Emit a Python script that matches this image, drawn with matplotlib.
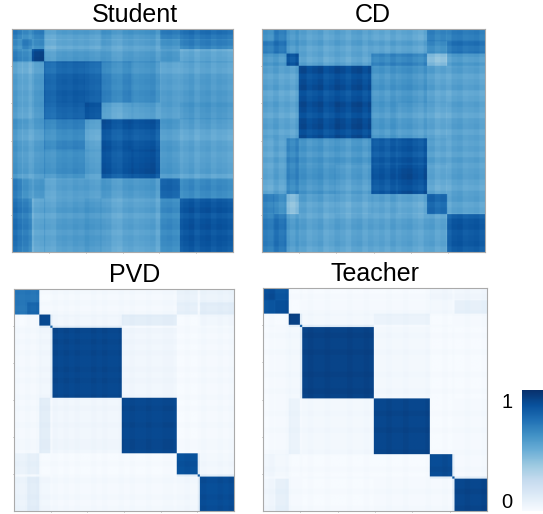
import numpy as np
import matplotlib
matplotlib.use('Agg')
import matplotlib.pyplot as plt

plt.rcParams['font.family'] = ['Liberation Sans', 'DejaVu Sans']

W, H = 543, 514
N = 200

# block sizes (rows out of 200) and upper triangle of each similarity matrix
student_sizes = [9, 9, 11, 37, 15, 27, 26, 18, 48]
student_vals = [
    [.68, .62, .66, .54, .54, .58, .58, .68, .72],
    [.68, .62, .51, .51, .54, .54, .60, .67],
    [.88, .55, .55, .55, .55, .57, .50],
    [.79, .77, .65, .61, .54, .55],
    [.83, .52, .54, .54, .57],
    [.84, .83, .57, .53],
    [.85, .57, .53],
    [.78, .63],
    [.83],
]

cd_sizes = [11, 11, 11, 33, 32, 24, 26, 18, 34]
cd_vals = [
    [.60, .68, .58, .53, .53, .51, .51, .66, .68],
    [.72, .58, .53, .53, .53, .53, .62, .72],
    [.86, .53, .53, .66, .66, .42, .57],
    [.86, .86, .58, .59, .53, .53],
    [.87, .57, .55, .51, .53],
    [.81, .83, .53, .53],
    [.86, .51, .53],
    [.76, .53],
    [.82],
]

pvd_sizes = [12, 11, 10, 2, 63, 50, 19, 2, 31]
pvd_vals = [
    [.72, .72, .00, .01, .01, .01, .06, .01, .05],
    [.78, .01, .01, .01, .01, .08, .01, .10],
    [.90, .10, .03, .10, .00, .01, .03],
    [.80, .10, .01, .01, .01, .01],
    [.90, .03, .00, .01, .01],
    [.90, .00, .01, .01],
    [.87, .10, .02],
    [.85, .10],
    [.88],
]

teacher_sizes = [11, 12, 10, 2, 64, 50, 20, 2, 29]
teacher_vals = [
    [.88, .85, .00, .01, .00, .00, .03, .01, .03],
    [.88, .00, .01, .01, .01, .02, .01, .08],
    [.93, .10, .02, .06, .00, .01, .01],
    [.80, .10, .01, .01, .01, .01],
    [.92, .02, .00, .01, .00],
    [.91, .00, .01, .01],
    [.89, .10, .01],
    [.85, .10],
    [.91],
]

# fine plaid offsets, one value for every 5 rows
student_stripes = [.03, -.01, .02, -.02, .02, .03, -.02, -.03, .01, .02, .01, .03, .02, .03, .01, .00, .03, .02, -.02, -.03,
                   .01, .02, .00, .01, .02, .03, -.02, .01, .02, .00, -.01, .01, .03, -.01, .02, .03, .00, .02, .01, -.01]
cd_stripes = [.02, .00, .03, -.01, .01, -.02, .02, .03, -.01, .01, .03, -.02, .00, .03, .01, -.02, .02, .03, -.01, .02,
              .00, .02, -.01, .03, .00, .02, .03, .00, -.02, .02, .03, -.01, .01, -.02, .02, .03, .00, .01, .02, -.01]
pvd_stripes = [.01, .00, .01, .00, .01, .00, .00, .01, .00, .01, .00, .01, .00, .00, .01, .00, .01, .00, .00, .01,
               .00, .01, .00, .00, .01, .00, .00, .01, .01, .00, .00, .01, .00, .00, .01, .00, .00, .01, .00, .01]
teacher_stripes = [.00, .01, .00, .00, .01, .00, .00, .00, .01, .00, .00, .01, .00, .00, .00, .01, .00, .00, .01, .00,
                   .00, .00, .01, .00, .00, .01, .00, .00, .00, .01, .00, .00, .01, .00, .00, .00, .01, .00, .00, .01]

titles = ['Student', 'CD', 'PVD', 'Teacher']
sizes = [student_sizes, cd_sizes, pvd_sizes, teacher_sizes]
vals = [student_vals, cd_vals, pvd_vals, teacher_vals]
stripes = [student_stripes, cd_stripes, pvd_stripes, teacher_stripes]
# axes boxes in pixels: left, top, right, bottom
boxes = [(12, 29, 233, 252), (262, 29, 485, 252), (14, 289, 234, 511), (263, 288, 487, 511)]
title_x = [135, 373, 135, 375]


def make_axes(fig, box):
    l, t, r, b = box
    return fig.add_axes([l / W, 1 - b / H, (r - l) / W, (b - t) / H])


def build_matrix(block_sizes, upper, plaid):
    k = len(block_sizes)
    m = np.zeros((k, k))
    for i in range(k):
        for j, v in enumerate(upper[i]):
            m[i, i + j] = v
            m[i + j, i] = v
    m = np.repeat(np.repeat(m, block_sizes, axis=0), block_sizes, axis=1)
    p = np.repeat(plaid, 5)
    return m + p[:, None] + p[None, :]


fig = plt.figure(figsize=(W / 100, H / 100), dpi=100)

for name, s, v, st, box, tx in zip(titles, sizes, vals, stripes, boxes, title_x):
    ax = make_axes(fig, box)
    im = ax.imshow(build_matrix(s, v, st), cmap='Blues', vmin=0, vmax=1,
                   interpolation='bilinear', aspect='auto')
    ticks = [N * f / 6 - 0.5 for f in range(1, 6)]
    ax.set_xticks(ticks)
    ax.set_yticks(ticks)
    ax.set_xticklabels([])
    ax.set_yticklabels([])
    ax.tick_params(length=1, width=0.5, color='#888888')
    for sp in ax.spines.values():
        sp.set_color('#aaaaaa')
        sp.set_linewidth(0.8)
    l, t, r, b = box
    ax.set_title(name, fontsize=18, x=(tx - l) / (r - l), pad=5)

# colorbar
cax = make_axes(fig, (522, 390, 543, 511))
cb = fig.colorbar(im, cax=cax)
cb.outline.set_visible(False)
cb.set_ticks([0.09, 0.91])
cb.set_ticklabels(['0', '1'])
cax.yaxis.set_ticks_position('left')
cax.tick_params(length=0, pad=7, labelsize=14.5)

fig.savefig('out.png', dpi=100)
